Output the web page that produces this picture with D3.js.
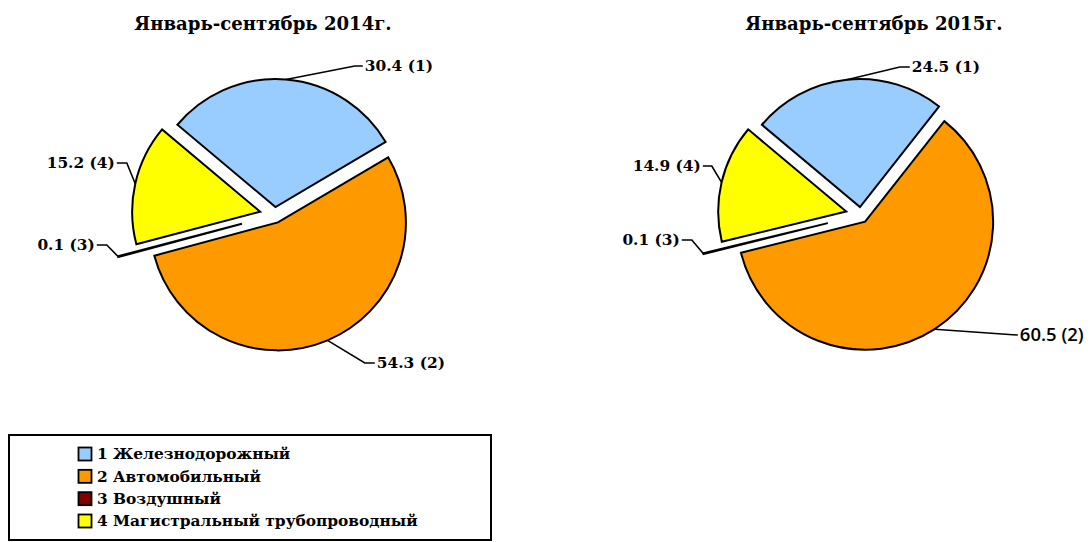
<!DOCTYPE html>
<html><head><meta charset="utf-8">
<script src="https://cdn.jsdelivr.net/npm/d3@7"></script>
<style>
html,body{margin:0;padding:0;background:#fff;}
svg{display:block;}
</style></head>
<body>
<svg id="chart" width="1090" height="542"></svg>
<script>
// ---- data ----
const categories = ["1 Железнодорожный", "2 Автомобильный", "3 Воздушный", "4 Магистральный трубопроводный"];
const shortIds = ["(1)", "(2)", "(3)", "(4)"];
const titles = ["Январь-сентябрь 2014г.", "Январь-сентябрь 2015г."];
const values2014 = [30.4, 54.3, 0.1, 15.2];
const values2015 = [24.5, 60.5, 0.1, 14.9];

// ---- styles / layout ----
const colors = ["#99CCFF", "#FF9900", "#800000", "#FFFF00"];
const explode = [8, 8, 34, 15];
const R = 128;
const serif = "'DejaVu Serif', serif";
const charts = [
  {values: values2014, cx: 274.8, cy: 215, titleX: 263,
   labels: [
     {e:[80,-149], t:[88,-149], side:"start"},
     {e:[90,148], t:[100,148], side:"start"},
     {e:[-168,30], t:[-178,30], side:"end"},
     {e:[-148,-52], t:[-158,-52], side:"end"}]},
  {values: values2015, cx: 860.8, cy: 215, titleX: 874,
   labels: [
     {e:[39,-148], t:[49,-148], side:"start"},
     {e:[152,119.7], t:[157,120], side:"start", sans:true},
     {e:[-169,25], t:[-179,25], side:"end"},
     {e:[-149,-49], t:[-158,-49], side:"end"}]}
];

const svg = d3.select("#chart");
const deg = Math.PI/180;
const pie = d3.pie().sort(null).value(d => d).startAngle(-50*deg).endAngle(310*deg);
const arc = d3.arc().innerRadius(0).outerRadius(R);

charts.forEach((c, ci) => {
  svg.append("text").attr("x", c.titleX).attr("y", 30)
    .attr("text-anchor", "middle").attr("font-family", serif)
    .attr("font-weight", "bold").attr("font-size", 18.1).text(titles[ci]);

  const g = svg.append("g").attr("transform", `translate(${c.cx},${c.cy})`);
  const arcs = pie(c.values);
  const off = (d, i) => {
    const m = (d.startAngle + d.endAngle)/2;
    return [Math.sin(m)*explode[i], -Math.cos(m)*explode[i]];
  };
  g.selectAll("path.slice").data(arcs).join("path").attr("class","slice")
    .attr("transform", (d,i) => { const o = off(d,i); return `translate(${o[0]},${o[1]})`; })
    .attr("d", arc).attr("fill", (d,i) => colors[i])
    .attr("stroke", "#000").attr("stroke-width", 2).attr("stroke-linejoin", "miter");

  arcs.forEach((d, i) => {
    const o = off(d, i);
    const m = (d.startAngle + d.endAngle)/2;
    const p0 = [o[0] + Math.sin(m)*R, o[1] - Math.cos(m)*R];
    const L = c.labels[i];
    g.append("path").attr("d", d3.line()([p0, L.e, L.t]))
      .attr("fill","none").attr("stroke","#000").attr("stroke-width",1.6);
    g.append("text")
      .attr("x", L.t[0] + (L.side === "start" ? 2 : -2)).attr("y", L.t[1])
      .attr("dy", "0.35em").attr("text-anchor", L.side)
      .attr("font-family", L.sans ? "'Open Sans', sans-serif" : serif)
      .attr("font-weight", L.sans ? 600 : "bold")
      .attr("font-size", L.sans ? 18.5 : 15.4)
      .text(d3.format(".1f")(c.values[i]) + " " + shortIds[i]);
  });
});

// legend
const lg = svg.append("g");
lg.append("rect").attr("x", 9).attr("y", 435).attr("width", 482).attr("height", 105)
  .attr("fill", "#fff").attr("stroke", "#000").attr("stroke-width", 2);
const ly = d3.scalePoint().domain(categories).range([454, 521]);
categories.forEach((cat, i) => {
  lg.append("rect").attr("x", 78.5).attr("y", ly(cat) - 6.5).attr("width", 13).attr("height", 13)
    .attr("fill", colors[i]).attr("stroke", "#000").attr("stroke-width", 1.8);
  lg.append("text").attr("x", 97).attr("y", ly(cat)).attr("dy", "0.35em")
    .attr("font-family", serif).attr("font-weight", "bold").attr("font-size", 15.4).text(cat);
});
</script>
</body></html>
